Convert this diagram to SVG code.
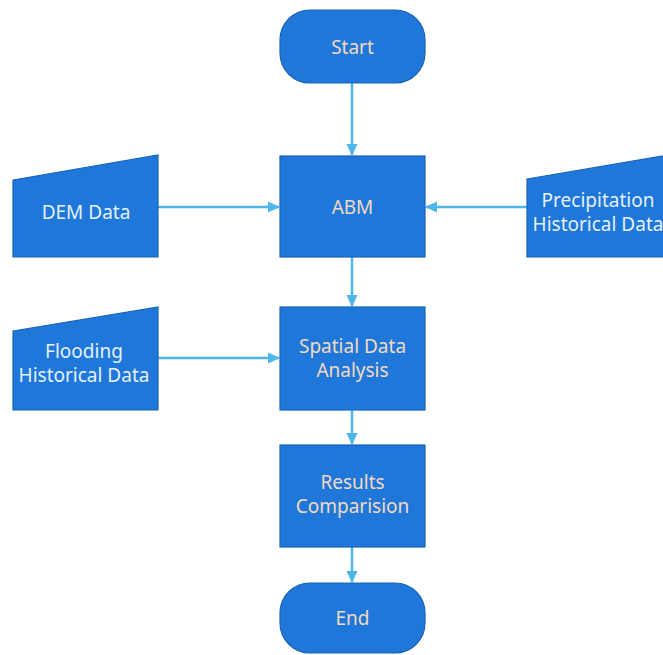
<svg xmlns="http://www.w3.org/2000/svg" width="663" height="655" viewBox="0 0 663 655">
<defs>
<marker id="ah" markerWidth="12" markerHeight="12" refX="11" refY="6" orient="auto" markerUnits="userSpaceOnUse">
<path d="M0,0.5 L12,6 L0,11.5 Z" fill="#4DB6EA"/>
</marker>
</defs>
<style>
.shape{fill:#1F78D9;stroke:#1A62B8;stroke-width:1.2}
.lbl{font-family:"Noto Sans","Open Sans",sans-serif;font-size:19px;text-anchor:middle;dominant-baseline:central}
.warm{fill:#F2D9C2}
.cool{fill:#E4F0FA}
.conn{stroke:#4DB6EA;stroke-width:2.5;fill:none}
</style>
<rect width="663" height="655" fill="#fff"/>
<g id="connectors">
<line class="conn" x1="352" y1="83" x2="352" y2="155" marker-end="url(#ah)"/>
<line class="conn" x1="158" y1="207" x2="279" y2="207" marker-end="url(#ah)"/>
<line class="conn" x1="527" y1="207" x2="426" y2="207" marker-end="url(#ah)"/>
<line class="conn" x1="352" y1="257" x2="352" y2="306" marker-end="url(#ah)"/>
<line class="conn" x1="158" y1="358" x2="279" y2="358" marker-end="url(#ah)"/>
<line class="conn" x1="352" y1="410" x2="352" y2="444" marker-end="url(#ah)"/>
<line class="conn" x1="352" y1="547" x2="352" y2="582" marker-end="url(#ah)"/>
</g>
<g id="start">
<rect class="shape" x="280" y="10" width="145" height="73" rx="30" ry="30"/>
<text class="lbl warm" x="352.5" y="47">Start</text>
</g>
<g id="abm">
<rect class="shape" x="280" y="156" width="145" height="101"/>
<text class="lbl warm" x="352.5" y="207">ABM</text>
</g>
<g id="dem">
<path class="shape" d="M13,180 L158,155 L158,257 L13,257 Z"/>
<text class="lbl cool" x="86" y="211.5">DEM Data</text>
</g>
<g id="precip">
<path class="shape" d="M527,179 L680,153 L680,257 L527,257 Z"/>
<text class="lbl cool" x="598" y="200">Precipitation</text>
<text class="lbl cool" x="598" y="224">Historical Data</text>
</g>
<g id="flooding">
<path class="shape" d="M13,331 L158,307 L158,410 L13,410 Z"/>
<text class="lbl cool" x="84" y="351">Flooding</text>
<text class="lbl cool" x="84" y="375">Historical Data</text>
</g>
<g id="spatial">
<rect class="shape" x="280" y="307" width="145" height="103"/>
<text class="lbl warm" x="352.5" y="346">Spatial Data</text>
<text class="lbl warm" x="352.5" y="370">Analysis</text>
</g>
<g id="results">
<rect class="shape" x="280" y="445" width="145" height="102"/>
<text class="lbl warm" x="352.5" y="482">Results</text>
<text class="lbl warm" x="352.5" y="506">Comparision</text>
</g>
<g id="end">
<rect class="shape" x="280" y="583" width="145" height="70" rx="30" ry="30"/>
<text class="lbl warm" x="352.5" y="617.5">End</text>
</g>
</svg>
